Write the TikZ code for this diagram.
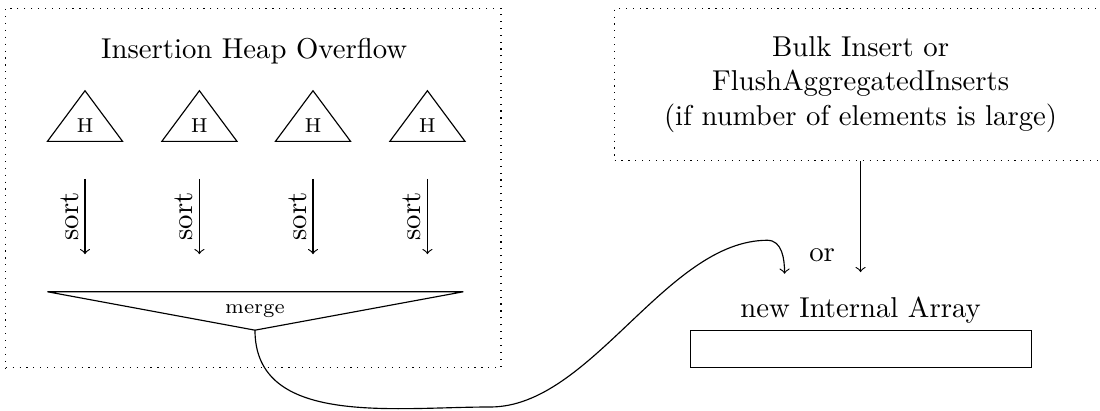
\documentclass[tikz,border=0pt]{standalone}
\usetikzlibrary{positioning}

\tikzset{
  frame/.style={draw, dotted, inner sep=0pt},
  heaplabel/.style={font=\scriptsize},
  sortlabel/.style={rotate=90, anchor=south, inner sep=2pt},
}

\begin{document}
\begin{tikzpicture}[>=to]
\useasboundingbox (0,0) rectangle (13.46,-5.02);

% Overflow der Insertion Heaps
\node[frame, minimum width=6.06cm, minimum height=4.40cm] (overflow) at (3.10,-2.30) {};
\node (title) at (3.11,-0.62) {Insertion Heap Overflow};

\foreach \i/\x in {1/1.04,2/2.44,3/3.83,4/5.23} {
  \draw (\x-0.46,-1.73) -- (\x,-1.11) -- (\x+0.46,-1.73) -- cycle;
  \node[heaplabel] (heap\i) at (\x,-1.54) {H};
  \coordinate (sortin\i) at (\x,-2.19);
  \coordinate (sortout\i) at (\x,-3.11);
  \draw[->] (sortin\i) -- node[sortlabel] {sort} (sortout\i);
}

% Merge
\draw (0.58,-3.57) -- (5.67,-3.57) -- (3.12,-4.04) -- cycle;
\node[heaplabel] (merge) at (3.12,-3.80) {merge};
\coordinate (merged) at (3.12,-4.04);

% Bulk Insert
\node[frame, minimum width=6.02cm, minimum height=1.86cm, align=center] (bulk) at (10.53,-1.03)
  {Bulk Insert or\\FlushAggregatedInserts\\(if number of elements is large)};

% neues Array
\node[draw, minimum width=4.17cm, minimum height=0.46cm, inner sep=0pt] (array) at (10.535,-4.27) {};
\node (arraylabel) at (10.53,-3.80) {new Internal Array};
\node (or) at (10.06,-3.12) {or};

\coordinate (low) at (6.0,-4.98);
\coordinate (high) at (9.39,-2.94);
\coordinate (mergein) at (9.60,-3.35);
\coordinate (bulkin) at (10.53,-3.33);

\draw[->] (merged) to[out=-90,in=180] (low) to[out=0,in=180,looseness=0.8] (high) to[out=0,in=90] (mergein);
\draw[->] (bulk.south) -- (bulkin);

\end{tikzpicture}
\end{document}
